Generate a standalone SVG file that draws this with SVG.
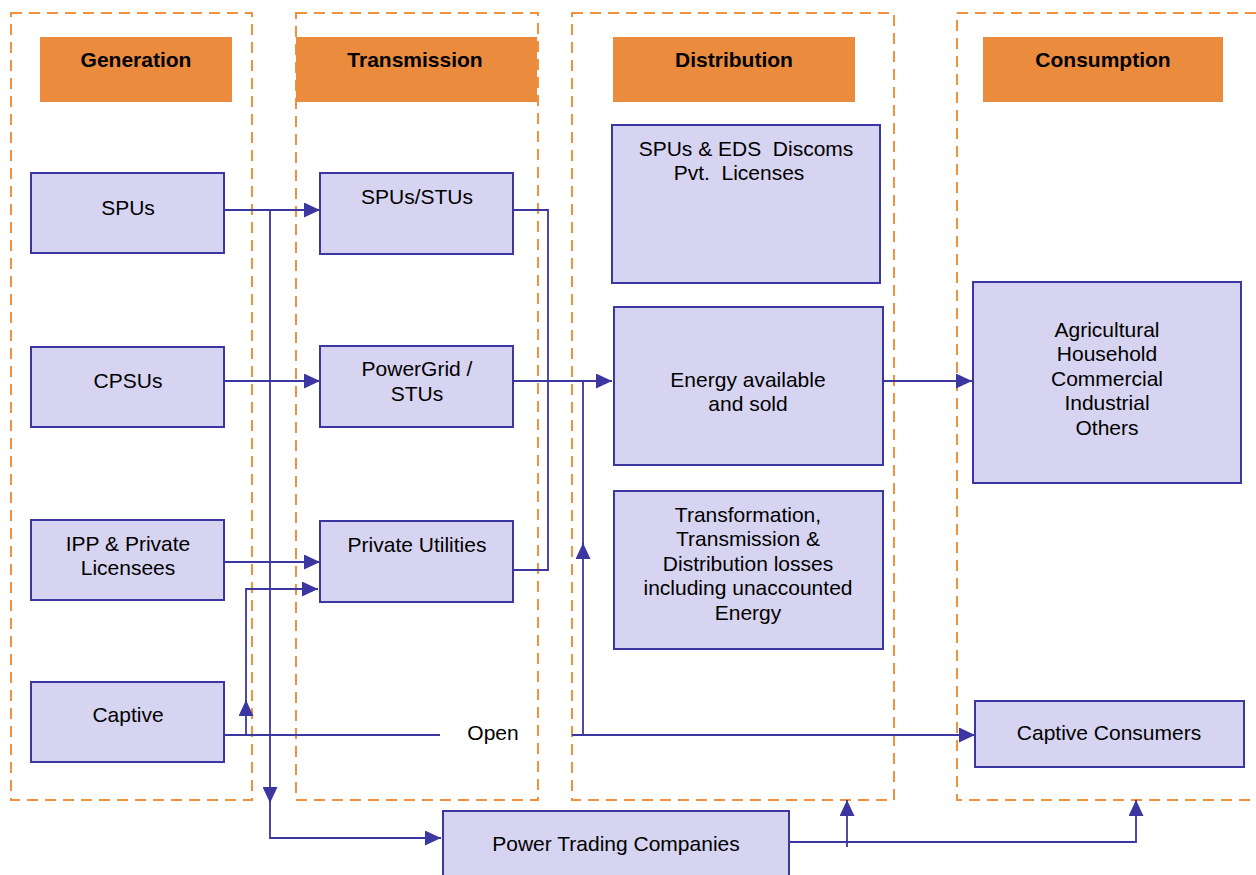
<svg xmlns="http://www.w3.org/2000/svg" width="1256" height="875" viewBox="0 0 1256 875">
<style>
.frame{fill:none;stroke:#F0913F;stroke-width:2;stroke-dasharray:11,7}
.hdr{fill:#EB8B3D}
.htxt{font-family:"Liberation Sans",Arial,sans-serif;font-size:21px;font-weight:bold;fill:#000;text-anchor:middle}
.node{fill:#D6D4F1;stroke:#3B36A0;stroke-width:2}
.txt{font-family:"Liberation Sans",Arial,sans-serif;font-size:21px;fill:#000;text-anchor:middle;white-space:pre}
.con{fill:none;stroke:#3B36A0;stroke-width:1.8}
</style>
<defs>
<marker id="arr" viewBox="0 0 16 15" refX="16" refY="7.5" markerWidth="16" markerHeight="15" markerUnits="userSpaceOnUse" orient="auto">
<path d="M0,0 L16,7.5 L0,15 z" fill="#3B36A0"/>
</marker>
</defs>
<rect width="1256" height="875" fill="#fff"/>
<g id="frames">
<rect class="frame" x="11" y="13" width="241" height="787"/>
<rect class="frame" x="296" y="13" width="242" height="787"/>
<rect class="frame" x="572" y="13" width="322" height="787"/>
<rect class="frame" x="957" y="13" width="320" height="787"/>
</g>
<g id="hdr-generation"><rect class="hdr" x="40" y="37" width="192" height="65"/><text class="htxt" x="136" y="67">Generation</text></g>
<g id="hdr-transmission"><rect class="hdr" x="296" y="37" width="241" height="65"/><text class="htxt" x="415" y="67">Transmission</text></g>
<g id="hdr-distribution"><rect class="hdr" x="613" y="37" width="242" height="65"/><text class="htxt" x="734" y="67">Distribution</text></g>
<g id="hdr-consumption"><rect class="hdr" x="983" y="37" width="240" height="65"/><text class="htxt" x="1103" y="67">Consumption</text></g>
<g id="connectors">
<path class="con" d="M224,210 H320" marker-end="url(#arr)"/>
<path class="con" d="M224,381 H320" marker-end="url(#arr)"/>
<path class="con" d="M224,562 H320" marker-end="url(#arr)"/>
<path class="con" d="M270,210 V803" marker-end="url(#arr)"/>
<path class="con" d="M270,800 V838 H441" marker-end="url(#arr)"/>
<path class="con" d="M224,735 H440"/>
<path class="con" d="M246,735 V700" marker-end="url(#arr)"/>
<path class="con" d="M246,703 V589 H318" marker-end="url(#arr)"/>
<path class="con" d="M514,210 H548 V570 H514"/>
<path class="con" d="M514,381 H612" marker-end="url(#arr)"/>
<path class="con" d="M572,735 H975" marker-end="url(#arr)"/>
<path class="con" d="M583,735 V543" marker-end="url(#arr)"/>
<path class="con" d="M583,546 V381"/>
<path class="con" d="M883,381 H972" marker-end="url(#arr)"/>
<path class="con" d="M789,842 H1136 V800" marker-end="url(#arr)"/>
<path class="con" d="M847,847 V800" marker-end="url(#arr)"/>
<text class="txt" x="493" y="740">Open</text>
</g>
<g id="n-spus"><rect class="node" x="31" y="173" width="193" height="80"/><text class="txt" x="128" y="215">SPUs</text></g>
<g id="n-cpsus"><rect class="node" x="31" y="347" width="193" height="80"/><text class="txt" x="128" y="388">CPSUs</text></g>
<g id="n-ipp"><rect class="node" x="31" y="520" width="193" height="80"/><text class="txt" x="128" y="551">IPP &amp; Private</text><text class="txt" x="128" y="575">Licensees</text></g>
<g id="n-captive"><rect class="node" x="31" y="682" width="193" height="80"/><text class="txt" x="128" y="722">Captive</text></g>
<g id="n-spus-stus"><rect class="node" x="320" y="173" width="193" height="81"/><text class="txt" x="417" y="204">SPUs/STUs</text></g>
<g id="n-powergrid"><rect class="node" x="320" y="346" width="193" height="81"/><text class="txt" x="417" y="376">PowerGrid /</text><text class="txt" x="417" y="401">STUs</text></g>
<g id="n-private-utilities"><rect class="node" x="320" y="521" width="193" height="81"/><text class="txt" x="417" y="552">Private Utilities</text></g>
<g id="n-discoms"><rect class="node" x="612" y="125" width="268" height="158"/><text class="txt" x="746" y="156">SPUs &amp; EDS  Discoms</text><text class="txt" x="739" y="180">Pvt.  Licenses</text></g>
<g id="n-energy"><rect class="node" x="614" y="307" width="269" height="158"/><text class="txt" x="748" y="387">Energy available</text><text class="txt" x="748" y="411">and sold</text></g>
<g id="n-losses"><rect class="node" x="614" y="491" width="269" height="158"/><text class="txt" x="748" y="522">Transformation,</text><text class="txt" x="748" y="546">Transmission &amp;</text><text class="txt" x="748" y="571">Distribution losses</text><text class="txt" x="748" y="595">including unaccounted</text><text class="txt" x="748" y="620">Energy</text></g>
<g id="n-consumers"><rect class="node" x="973" y="282" width="268" height="201"/><text class="txt" x="1107" y="337">Agricultural</text><text class="txt" x="1107" y="361">Household</text><text class="txt" x="1107" y="386">Commercial</text><text class="txt" x="1107" y="410">Industrial</text><text class="txt" x="1107" y="435">Others</text></g>
<g id="n-captive-consumers"><rect class="node" x="975" y="701" width="269" height="66"/><text class="txt" x="1109" y="740">Captive Consumers</text></g>
<g id="n-trading"><rect class="node" x="443" y="811" width="346" height="70"/><text class="txt" x="616" y="851">Power Trading Companies</text></g>
</svg>
